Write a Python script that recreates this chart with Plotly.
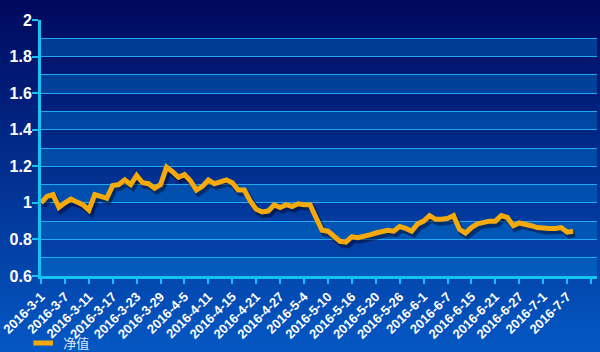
import plotly.graph_objects as go

# ---- data ----
dates = [
    "2016-3-1", "2016-3-2", "2016-3-3", "2016-3-4", "2016-3-7", "2016-3-8", "2016-3-9", "2016-3-10",
    "2016-3-11", "2016-3-14", "2016-3-15", "2016-3-16", "2016-3-17", "2016-3-18", "2016-3-21", "2016-3-22",
    "2016-3-23", "2016-3-24", "2016-3-25", "2016-3-28", "2016-3-29", "2016-3-30", "2016-3-31", "2016-4-1",
    "2016-4-5", "2016-4-6", "2016-4-7", "2016-4-8", "2016-4-11", "2016-4-12", "2016-4-13", "2016-4-14",
    "2016-4-15", "2016-4-18", "2016-4-19", "2016-4-20", "2016-4-21", "2016-4-22", "2016-4-25", "2016-4-26",
    "2016-4-27", "2016-4-28", "2016-4-29", "2016-5-3", "2016-5-4", "2016-5-5", "2016-5-6", "2016-5-9",
    "2016-5-10", "2016-5-11", "2016-5-12", "2016-5-13", "2016-5-16", "2016-5-17", "2016-5-18", "2016-5-19",
    "2016-5-20", "2016-5-23", "2016-5-24", "2016-5-25", "2016-5-26", "2016-5-27", "2016-5-30", "2016-5-31",
    "2016-6-1", "2016-6-2", "2016-6-3", "2016-6-6", "2016-6-7", "2016-6-8", "2016-6-13", "2016-6-14",
    "2016-6-15", "2016-6-16", "2016-6-17", "2016-6-20", "2016-6-21", "2016-6-22", "2016-6-23", "2016-6-24",
    "2016-6-27", "2016-6-28", "2016-6-29", "2016-6-30", "2016-7-1", "2016-7-4", "2016-7-5", "2016-7-6",
    "2016-7-7", "2016-7-8", "2016-7-11", "2016-7-12", "2016-7-13", "2016-7-14",
]

nav = [
    1.00, 1.035, 1.045, 0.975, 1.00, 1.02, 1.005, 0.99, 0.96, 1.045,
    1.035, 1.025, 1.095, 1.10, 1.125, 1.10, 1.15, 1.11, 1.105, 1.08,
    1.10, 1.195, 1.17, 1.14, 1.155, 1.12, 1.07, 1.09, 1.125, 1.105,
    1.115, 1.125, 1.11, 1.07, 1.07, 1.01, 0.965, 0.95, 0.955, 0.99,
    0.975, 0.99, 0.98, 0.995, 0.99, 0.99, 0.92, 0.85, 0.845, 0.82,
    0.79, 0.785, 0.815, 0.81, 0.815, 0.825, 0.835, 0.845, 0.85, 0.845,
    0.87, 0.86, 0.845, 0.885, 0.90, 0.93, 0.91, 0.91, 0.915, 0.93,
    0.855, 0.835, 0.865, 0.885, 0.895, 0.90, 0.90, 0.93, 0.92, 0.875,
    0.89, 0.885, 0.875, 0.865, 0.86, 0.86, 0.86, 0.865, 0.84, 0.845,
]

series_name = "净值"
tick_step = 4
last_labelled = "2016-7-7"
y_min, y_max = 0.6, 2.0

# ---- styling ----
W, H = 600, 352
ML, MR, MT, MB = 41, 3, 20, 76
LINE_COLOR = "#f5a90a"
AXIS_COLOR = "#16c3f5"
GRID_COLOR = "#22a8ee"
TOP_BG = (0, 8, 92)
BOT_BG = (4, 88, 196)

x_vals = dates[:len(nav)]
n_cat = len(dates)
tick_vals = dates[::tick_step]
cut = dates.index(last_labelled)
tick_text = [d if dates.index(d) <= cut else "" for d in tick_vals]

fig = go.Figure()

# shadow (base axes, slightly shifted scale)
fig.add_trace(go.Scatter(
    x=x_vals, y=nav, mode="lines", xaxis="x", yaxis="y",
    line=dict(color="rgba(0,0,25,0.45)", width=6),
    showlegend=False, hoverinfo="skip",
))
# main line
fig.add_trace(go.Scatter(
    x=x_vals, y=nav, mode="lines", xaxis="x2", yaxis="y2",
    line=dict(color=LINE_COLOR, width=5),
    showlegend=False, name=series_name,
))
# legend entry
fig.add_trace(go.Scatter(
    x=[None], y=[None], mode="markers", xaxis="x2", yaxis="y2",
    name=series_name,
    marker=dict(symbol="line-ew", size=14, color=LINE_COLOR,
                line=dict(width=5, color=LINE_COLOR)),
))

shapes = []
# background gradient
pw = W - ML - MR
ph = H - MT - MB
N = 44
for i in range(N):
    t0 = i / N
    t1 = (i + 1) / N
    tm = (i + 0.5) / N
    c = tuple(int(round(TOP_BG[k] + (BOT_BG[k] - TOP_BG[k]) * tm)) for k in range(3))
    y_top = 1 + MT / ph - t0 * H / ph
    y_bot = 1 + MT / ph - t1 * H / ph
    shapes.append(dict(
        type="rect", xref="paper", yref="paper", layer="below",
        x0=-ML / pw - 0.01, x1=1 + MR / pw + 0.01, y0=y_bot - 0.003, y1=y_top + 0.003,
        fillcolor="rgb(%d,%d,%d)" % c, line=dict(width=0),
    ))
# alternating bands
k = 0
while True:
    lo = y_min + 0.1 * k
    hi = lo + 0.1
    if hi > y_max + 1e-9:
        break
    if k % 2 == 0:
        shapes.append(dict(
            type="rect", xref="paper", yref="y2", layer="below",
            x0=0, x1=1, y0=lo, y1=hi,
            fillcolor="rgba(0,125,215,0.38)", line=dict(width=0),
        ))
    k += 1

fig.update_layout(
    width=W, height=H,
    margin=dict(l=ML, r=MR, t=MT, b=MB, pad=0, autoexpand=False),
    paper_bgcolor="rgb(2,44,137)",
    plot_bgcolor="rgba(0,0,0,0)",
    shapes=shapes,
    xaxis=dict(
        type="category", categoryorder="array", categoryarray=dates,
        range=[-0.35, n_cat - 1 - 0.35], visible=False, automargin=False,
    ),
    yaxis=dict(range=[y_min + 0.017, y_max + 0.017], visible=False, automargin=False),
    xaxis2=dict(
        type="category", categoryorder="array", categoryarray=dates,
        range=[0, n_cat - 1], overlaying="x", automargin=False,
        tickmode="array", tickvals=tick_vals, ticktext=tick_text,
        tickangle=-45, ticks="outside", ticklen=5, tickwidth=2, tickcolor=AXIS_COLOR,
        tickfont=dict(family="Liberation Sans, Arial", size=13, color="white", weight="bold"),
        showline=True, linecolor=AXIS_COLOR, linewidth=3,
        showgrid=False, zeroline=False,
        anchor="y2",
    ),
    yaxis2=dict(
        range=[y_min, y_max], overlaying="y", anchor="x2", automargin=False,
        dtick=0.2, tick0=0, ticks="outside", ticklen=6, tickwidth=2, tickcolor=AXIS_COLOR,
        ticklabelstandoff=-3,
        tickfont=dict(family="Liberation Sans, Arial", size=16, color="white", weight="bold"),
        showline=True, linecolor=AXIS_COLOR, linewidth=3,
        showgrid=True, gridcolor=GRID_COLOR, gridwidth=1.3,
        minor=dict(dtick=0.1, showgrid=True, gridcolor=GRID_COLOR, gridwidth=1.3, ticks=""),
        zeroline=False,
    ),
    legend=dict(
        orientation="h", x=-0.032, y=-0.262, xanchor="left", yanchor="middle",
        font=dict(family="Noto Sans CJK SC", size=13, color="#dde6f2"),
        bgcolor="rgba(0,0,0,0)", itemwidth=30,
    ),
    showlegend=True,
)

fig.write_html("out.html")
